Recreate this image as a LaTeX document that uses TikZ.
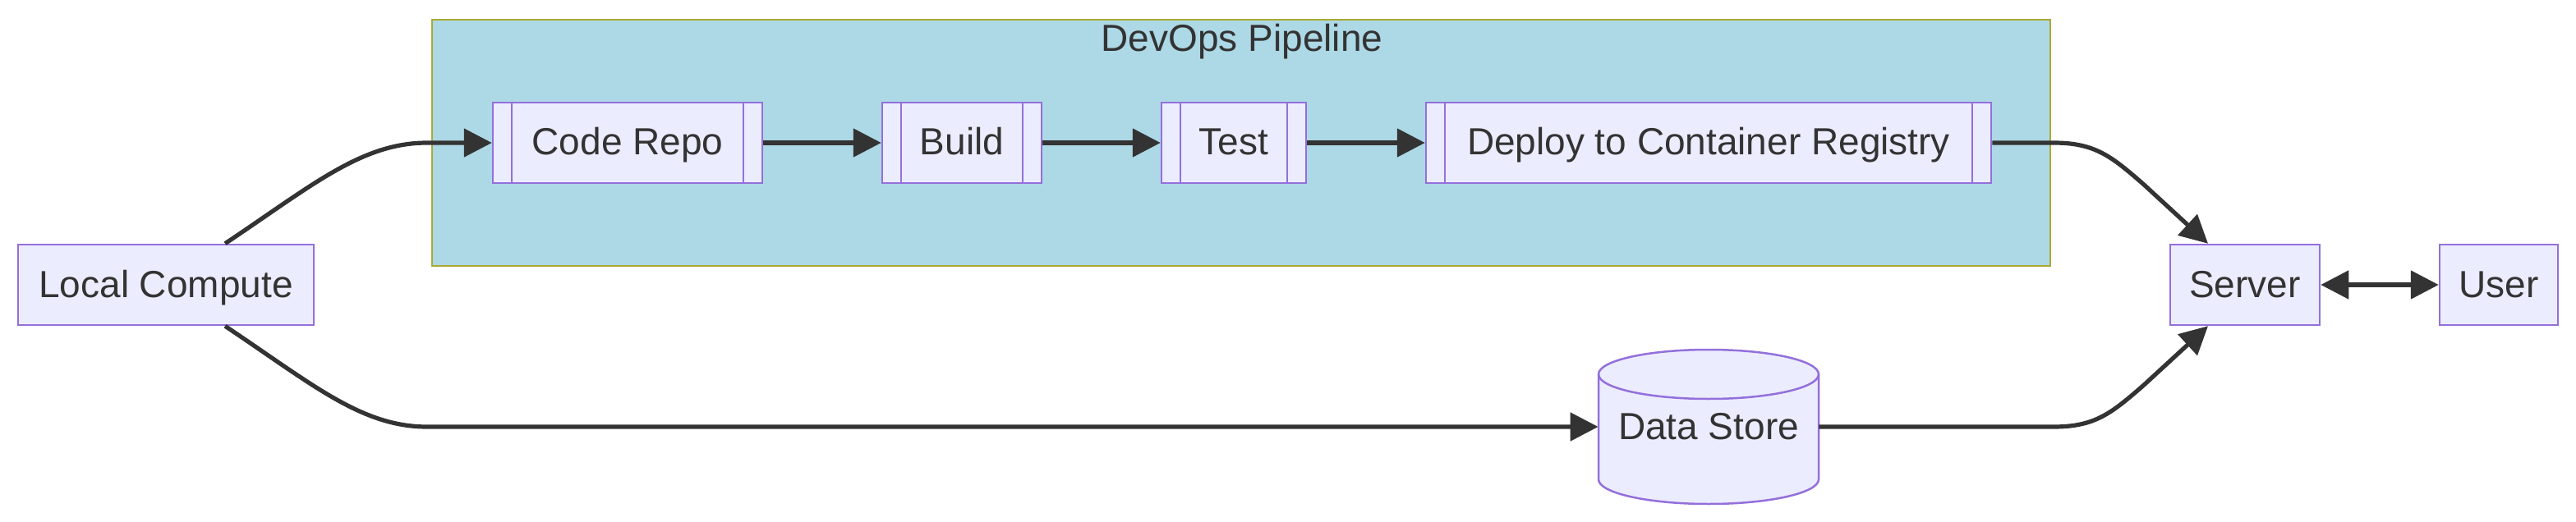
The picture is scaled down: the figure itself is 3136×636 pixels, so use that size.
\documentclass[tikz,border=0pt]{standalone}
\usepackage{fontspec}
\setmainfont{Liberation Sans}
\usetikzlibrary{arrows.meta}
\definecolor{nodefill}{HTML}{ECECFF}
\definecolor{nodeline}{HTML}{9370DB}
\definecolor{clfill}{HTML}{ADD8E6}
\definecolor{clline}{HTML}{AAAA33}
\definecolor{edgecol}{HTML}{333333}
\begin{document}
\begin{tikzpicture}[x=0.5pt,y=0.5pt,
  >={Triangle[length=17pt,width=17pt]},
  box/.style={draw=nodeline, fill=nodefill, line width=1.25pt, minimum height=49pt,
    inner sep=0pt, text=edgecol, font=\fontsize{23}{28}\selectfont,
    text height=20pt, text depth=5pt},
  subbox/.style={box, path picture={
    \draw[nodeline, line width=1.25pt]
      ([xshift=11.5pt]path picture bounding box.north west) -- ([xshift=11.5pt]path picture bounding box.south west)
      ([xshift=-11.5pt]path picture bounding box.north east) -- ([xshift=-11.5pt]path picture bounding box.south east);}},
  conn/.style={draw=edgecol, line width=2.6pt, ->},
  lbl/.style={text=edgecol, font=\fontsize{23}{28}\selectfont, inner sep=0pt,
    text height=20pt, text depth=5pt},
]
\useasboundingbox (0,0) rectangle (3136,-636);
\fill[white] (0,0) rectangle (3136,-636);
% cluster
\draw[fill=clfill, draw=clline, line width=1.25pt] (526,-24) rectangle (2496,-324);
\node[lbl] (title) at (1512,-48) {DevOps Pipeline};
% nodes
\node[box, minimum width=180pt] (lc) at (202,-347) {Local Compute};
\node[subbox, minimum width=164pt] (cr) at (764,-174) {Code Repo};
\node[subbox, minimum width=97pt] (bd) at (1171,-174) {Build};
\node[subbox, minimum width=88pt] (ts) at (1502,-174) {Test};
\node[subbox, minimum width=344pt] (dp) at (2080,-174) {Deploy to Container Registry};
\node[box, minimum width=91pt] (sv) at (2733,-347) {Server};
\node[box, minimum width=72pt] (us) at (3042,-347) {User};
% cylinder
\filldraw[fill=nodefill, draw=nodeline, line width=1.25pt]
  (1946,-456) -- (1946,-584) arc[start angle=180, end angle=360, x radius=134, y radius=30]
  -- (2214,-456) arc[start angle=0, end angle=180, x radius=134, y radius=30] -- cycle;
\draw[nodeline, line width=1.25pt] (1946,-456) arc[start angle=180, end angle=360, x radius=134, y radius=30];
\node[lbl, minimum width=134pt, minimum height=94pt] (ds) at (2080,-520) {Data Store};
% edges
\draw[conn] ([xshift=36pt]lc.north) .. controls (380,-226) and (440,-174) .. (520,-174) -- (cr.west);
\draw[conn] ([xshift=36pt]lc.south) .. controls (380,-468) and (440,-520) .. (520,-520) -- (ds.west);
\draw[conn] (cr) -- (bd);
\draw[conn] (bd) -- (ts);
\draw[conn] (ts) -- (dp);
\draw[conn] (dp.east) -- (2500,-174) .. controls (2550,-174) and (2570,-190) .. (2610,-225) -- ([xshift=-22.5pt]sv.north);
\draw[conn] (ds.east) -- (2500,-520) .. controls (2550,-520) and (2570,-504) .. (2610,-469) -- ([xshift=-22.5pt]sv.south);
\draw[conn, <->] (sv) -- (us);
\end{tikzpicture}
\end{document}
